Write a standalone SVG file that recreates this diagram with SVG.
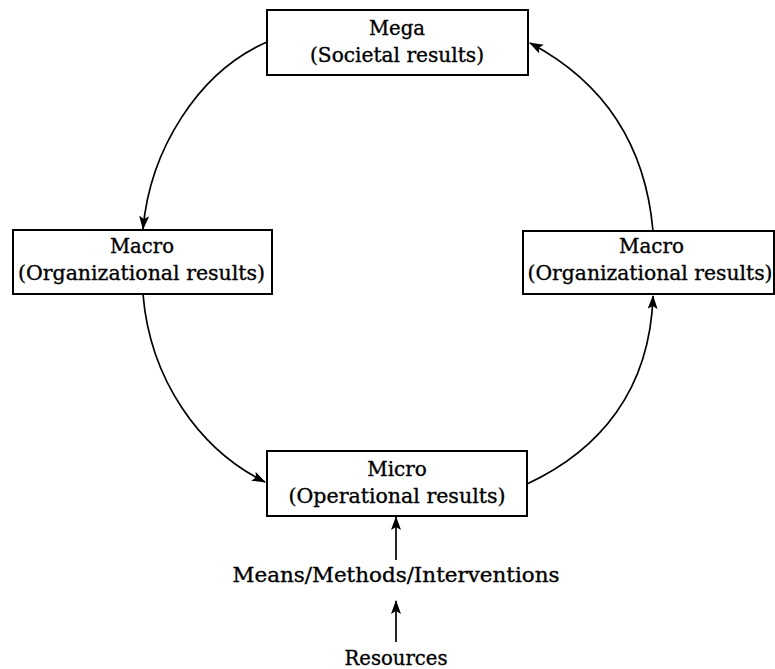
<svg xmlns="http://www.w3.org/2000/svg" width="775" height="669" viewBox="0 0 775 669">
<style>
.box{fill:#fff;stroke:#000;stroke-width:2}
.t{font-family:"DejaVu Serif","Liberation Serif",serif;font-size:20px;fill:#000;stroke:#000;stroke-width:0.35;text-anchor:middle}
.c{fill:none;stroke:#000;stroke-width:1.7}
</style>
<defs>
<marker id="ah" viewBox="0 0 14 10" refX="13" refY="5" markerWidth="14" markerHeight="10" markerUnits="userSpaceOnUse" orient="auto">
<path d="M0,0 L14,5 L0,10 L3,5 Z" fill="#000"/>
</marker>
</defs>
<rect width="775" height="669" fill="#fff"/>
<g id="connectors">
<path class="c" d="M267,42 C198,72 150,150 143,229" marker-end="url(#ah)"/>
<path class="c" d="M143,294 C150,380 200,450 265,482" marker-end="url(#ah)"/>
<path class="c" d="M527,484 C600,450 650,390 653,296" marker-end="url(#ah)"/>
<path class="c" d="M653,231 C645,140 600,80 530,43" marker-end="url(#ah)"/>
<path class="c" d="M396,560 L396,517" marker-end="url(#ah)"/>
<path class="c" d="M396,642 L396,601" marker-end="url(#ah)"/>
</g>
<g id="mega">
<rect class="box" x="267" y="10" width="261" height="65"/>
<text class="t" x="397" y="35" textLength="56" lengthAdjust="spacingAndGlyphs">Mega</text>
<text class="t" x="397" y="62" textLength="174" lengthAdjust="spacingAndGlyphs">(Societal results)</text>
</g>
<g id="macro-left">
<rect class="box" x="13" y="230" width="259" height="64"/>
<text class="t" x="142" y="253" textLength="64" lengthAdjust="spacingAndGlyphs">Macro</text>
<text class="t" x="141.5" y="280" textLength="247" lengthAdjust="spacingAndGlyphs">(Organizational results)</text>
</g>
<g id="macro-right">
<rect class="box" x="523" y="231" width="251" height="63"/>
<text class="t" x="651.5" y="253" textLength="65" lengthAdjust="spacingAndGlyphs">Macro</text>
<text class="t" x="650" y="280" textLength="245" lengthAdjust="spacingAndGlyphs">(Organizational results)</text>
</g>
<g id="micro">
<rect class="box" x="267" y="451" width="260" height="65"/>
<text class="t" x="397" y="476">Micro</text>
<text class="t" x="397" y="503" textLength="217" lengthAdjust="spacingAndGlyphs">(Operational results)</text>
</g>
<g id="means">
<text class="t" x="396" y="582" textLength="327" lengthAdjust="spacingAndGlyphs">Means/Methods/Interventions</text>
</g>
<g id="resources">
<text class="t" x="396" y="665" textLength="103" lengthAdjust="spacingAndGlyphs">Resources</text>
</g>
</svg>
